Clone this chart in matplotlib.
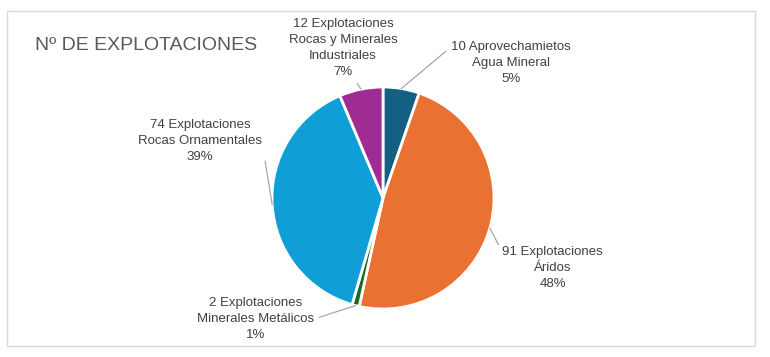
import matplotlib.pyplot as plt
import numpy as np
from matplotlib.patches import Rectangle

# data
counts = [10, 91, 2, 74, 12]
pcts = [5, 48, 1, 39, 7]  # as printed on the chart
names = ["Aprovechamietos\nAgua Mineral",
         "Explotaciones\nÁridos",
         "Explotaciones\nMinerales Metálicos",
         "Explotaciones\nRocas Ornamentales",
         "Explotaciones\nRocas y Minerales\nIndustriales"]
colors = ["#156082", "#E97132", "#196B24", "#0F9ED5", "#A02B93"]

# label placement (data coords, pie radius = 1) and where the leader meets the text
label_pos = [(1.15, 1.22), (1.53, -0.63), (-1.15, -1.09), (-1.65, 0.51), (-0.36, 1.35)]
rel_pos = [(0.0, 0.85), (0.0, 0.85), (1.0, 0.5), (1.0, 0.5), (0.6, 0.0)]

plt.rcParams['font.family'] = ['Liberation Sans', 'DejaVu Sans']

fig = plt.figure(figsize=(7.7, 3.57), dpi=100)
fig.patch.set_facecolor("white")
fig.patches.append(Rectangle((7 / 770, 1 - 346 / 357), 748 / 770, 335 / 357,
                             transform=fig.transFigure, fill=False,
                             edgecolor="#D9D9D9", linewidth=1))

fig.text(35 / 770, 1 - 45 / 357, "Nº DE EXPLOTACIONES", fontsize=14,
         color="#595959", va="center", ha="left")

ax = fig.add_axes([272 / 770, (357 - 309) / 357, 222 / 770, 222 / 357])
wedges, _ = ax.pie(counts, colors=colors, startangle=90, counterclock=False,
                   radius=1, wedgeprops=dict(edgecolor="white", linewidth=2))
ax.set_xlim(-1, 1)
ax.set_ylim(-1, 1)
ax.set_aspect("equal")
ax.axis("off")

for w, n, p, name, pos, rp in zip(wedges, counts, pcts, names, label_pos, rel_pos):
    ang = np.deg2rad((w.theta1 + w.theta2) / 2)
    xy = (np.cos(ang), np.sin(ang))
    ax.annotate(f"{n} {name}\n{p}%", xy=xy, xytext=pos, ha="center", va="center",
                fontsize=9.5, color="#404040", linespacing=1.45,
                annotation_clip=False,
                arrowprops=dict(arrowstyle="-", color="#A6A6A6", lw=0.9,
                                relpos=rp, shrinkA=2, shrinkB=0))

fig.savefig("out.png", dpi=100)
